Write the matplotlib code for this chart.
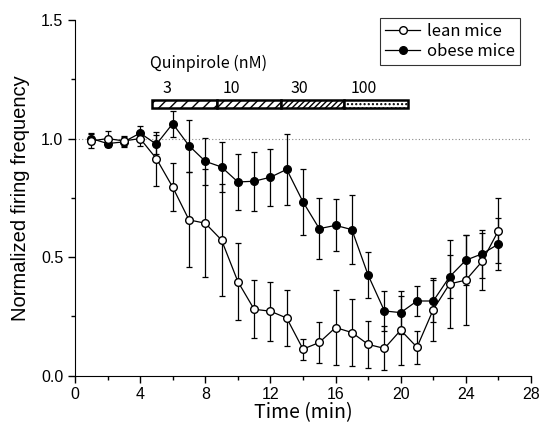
import numpy as np
import matplotlib
matplotlib.use("Agg")
import matplotlib.pyplot as plt
from matplotlib.ticker import MultipleLocator, FormatStrFormatter
from matplotlib.lines import Line2D

plt.rcParams["font.family"] = ["Liberation Sans", "DejaVu Sans"]
plt.rcParams["hatch.linewidth"] = 1.0
JP = ["Noto Sans CJK JP", "DejaVu Sans"]

# data
time_min = list(range(1, 27))
lean = [0.99, 1.00, 0.99, 1.00, 0.915, 0.795, 0.657, 0.643, 0.572, 0.397,
        0.28, 0.272, 0.243, 0.112, 0.140, 0.203, 0.182, 0.132, 0.115, 0.192,
        0.120, 0.279, 0.387, 0.403, 0.482, 0.612]
lean_err = [0.03, 0.03, 0.02, 0.03, 0.113, 0.10, 0.20, 0.228, 0.238, 0.163,
            0.122, 0.124, 0.119, 0.044, 0.088, 0.159, 0.14, 0.098, 0.093, 0.145,
            0.07, 0.134, 0.184, 0.19, 0.12, 0.138]
obese = [1.00, 0.979, 0.986, 1.023, 0.976, 1.063, 0.97, 0.904, 0.88, 0.817,
         0.82, 0.837, 0.87, 0.733, 0.620, 0.634, 0.616, 0.424, 0.273, 0.266,
         0.315, 0.315, 0.417, 0.487, 0.514, 0.555]
obese_err = [0.025, 0.015, 0.02, 0.03, 0.04, 0.055, 0.11, 0.10, 0.105, 0.117,
             0.125, 0.12, 0.15, 0.14, 0.13, 0.11, 0.145, 0.098, 0.085, 0.09,
             0.065, 0.09, 0.09, 0.105, 0.10, 0.11]

# quinpirole application periods
dose_labels = ["3", "10", "30", "100"]
dose_edges = [4.75, 8.7, 12.65, 16.5, 20.45]
dose_label_x = [5.63, 9.6, 13.8, 17.73]
dose_hatches = ["///", "////", "//////", "...."]

fig = plt.figure(figsize=(5.43, 4.30), dpi=100)
ax = fig.add_axes([0.1381, 0.1263, 0.8398, 0.8272])

ax.axhline(1.0, color="#888888", linestyle=(0, (1, 2)), linewidth=0.8, zorder=0)

err_kw = dict(color="black", marker="o", markersize=5.5, markeredgecolor="black",
              linewidth=0.9, elinewidth=0.9, capsize=2.2, capthick=0.9)
ax.errorbar(time_min, obese, yerr=obese_err, markerfacecolor="black", zorder=2, **err_kw)
ax.errorbar(time_min, lean, yerr=lean_err, markerfacecolor="white", zorder=3, **err_kw)

# drug bar
bar_lo, bar_hi = 1.130, 1.164
for i in range(len(dose_labels)):
    ax.bar(dose_edges[i], bar_hi - bar_lo, width=dose_edges[i + 1] - dose_edges[i],
           bottom=bar_lo, align="edge", facecolor="white", edgecolor="black",
           hatch=dose_hatches[i], linewidth=1.8, zorder=4)
    ax.text(dose_label_x[i], 1.212, dose_labels[i], ha="center", va="center",
            fontsize=11.5, family=JP)
ax.text(4.62, 1.315, "Quinpirole (nM)", ha="left", va="center", fontsize=11.5, family=JP)

ax.set_xlim(0, 28)
ax.set_ylim(0, 1.5)
ax.xaxis.set_major_locator(MultipleLocator(4))
ax.xaxis.set_minor_locator(MultipleLocator(2))
ax.yaxis.set_major_locator(MultipleLocator(0.5))
ax.yaxis.set_minor_locator(MultipleLocator(0.25))
ax.yaxis.set_major_formatter(FormatStrFormatter("%.1f"))
ax.tick_params(which="major", direction="out", length=5, width=1, labelsize=11.5)
ax.tick_params(which="minor", direction="out", length=3, width=1)
ax.spines["top"].set_visible(False)
ax.spines["right"].set_visible(False)

ax.set_xlabel("Time (min)", fontsize=14, labelpad=0, family=JP)
ax.set_ylabel("Normalized firing frequency", fontsize=14.5, labelpad=8)

handles = [Line2D([], [], color="black", lw=0.9, marker="o", markersize=5.5,
                  markerfacecolor="white", markeredgecolor="black"),
           Line2D([], [], color="black", lw=0.9, marker="o", markersize=5.5,
                  markerfacecolor="black", markeredgecolor="black")]
leg = ax.legend(handles, ["lean mice", "obese mice"], loc="upper right",
                bbox_to_anchor=(0.976, 1.005), prop={"family": JP, "size": 12},
                frameon=True, fancybox=False, edgecolor="black", handlelength=2.1,
                borderpad=0.3, labelspacing=0.15, handletextpad=0.4, borderaxespad=0)
leg.get_frame().set_linewidth(0.8)

fig.savefig("out.png", dpi=100)
